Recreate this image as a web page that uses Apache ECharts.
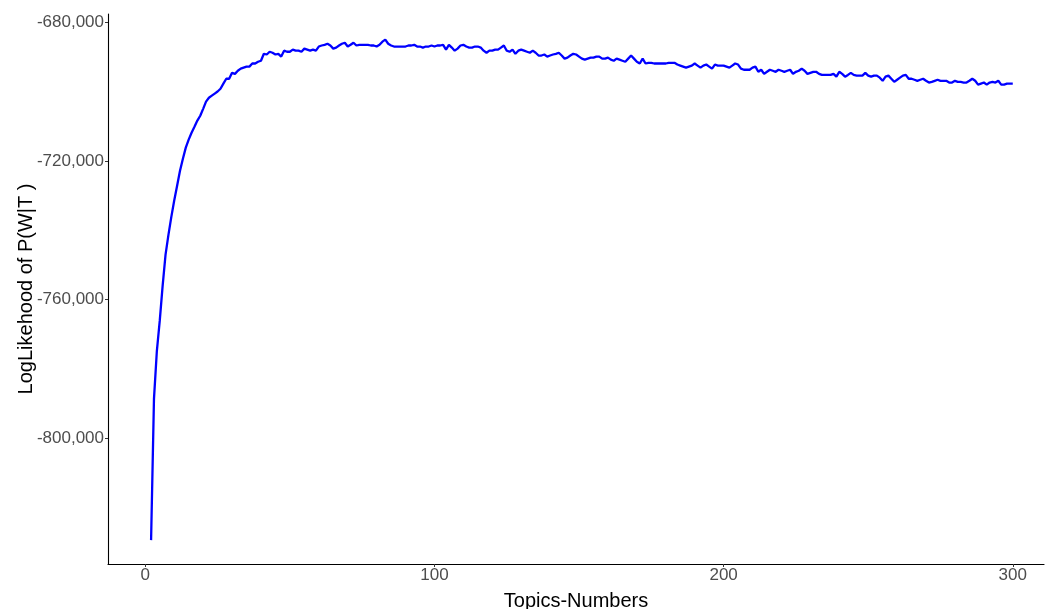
<!DOCTYPE html>
<html>
<head>
<meta charset="utf-8">
<script src="https://cdn.jsdelivr.net/npm/echarts@6/dist/echarts.min.js"></script>
<style>
  html, body { margin: 0; padding: 0; background: #ffffff; }
  #chart { width: 1046px; height: 609px; }
</style>
</head>
<body>
<div id="chart"></div>
<script>
// Topic counts run from 2 to 300 in steps of one
const firstTopic = 2;

// Log-likelihood of P(W|T) for each topic count
const logLikelihood = [
  -829500, -788700, -774800, -766100, -756000, -747000, -741300, -736100, -731400, -727100,
  -722800, -719300, -716100, -713800, -711800, -710100, -708300, -706900, -704900, -702800,
  -701700, -701100, -700500, -699900, -699100, -697600, -696200, -696200, -694500, -694800,
  -693900, -693300, -693000, -692700, -692700, -691800, -691800, -691300, -691000, -689000,
  -689200, -688400, -688700, -689200, -689000, -689800, -688100, -688400, -688400, -687800,
  -688100, -688100, -688400, -687500, -687800, -688100, -687800, -688100, -686900, -686600,
  -686400, -686100, -686600, -687500, -687200, -686600, -686100, -685800, -686900, -686400,
  -685800, -686600, -686400, -686400, -686400, -686400, -686600, -686600, -686900, -686400,
  -685500, -684900, -686100, -686600, -686900, -686900, -686900, -686900, -686900, -686600,
  -686600, -686400, -686900, -686900, -687200, -686900, -686900, -686600, -686900, -686600,
  -686600, -686400, -687800, -686400, -687200, -688100, -687500, -686600, -686400, -686900,
  -687200, -687200, -686900, -686900, -687200, -688100, -688700, -688100, -688100, -687800,
  -687800, -687200, -686600, -688100, -688400, -687800, -689000, -688100, -687800, -688100,
  -688400, -688700, -688100, -688700, -689500, -689500, -689200, -689800, -689500, -689200,
  -689000, -688700, -689500, -690400, -690100, -689500, -689000, -689200, -689800, -690400,
  -690700, -690400, -690100, -690100, -689800, -689800, -690400, -690400, -690100, -690700,
  -691000, -690400, -690700, -691000, -691300, -690400, -689500, -690400, -691300, -691800,
  -690400, -691800, -691600, -691600, -691800, -691800, -691800, -691800, -691800, -691600,
  -691600, -691600, -692100, -692400, -692700, -693000, -692700, -692400, -691800, -692400,
  -693000, -692400, -692100, -692700, -693300, -692100, -692400, -692400, -692400, -692700,
  -693000, -692400, -691800, -692100, -693300, -693600, -693600, -693600, -693000, -692700,
  -694200, -693600, -694800, -694200, -693600, -693900, -694200, -693600, -693900, -694200,
  -693900, -693600, -694800, -694200, -693900, -693300, -693900, -694800, -694500, -694200,
  -694200, -694800, -695100, -695100, -695100, -695100, -694800, -695600, -694200, -694800,
  -695600, -695100, -694500, -695100, -695300, -695300, -695300, -694500, -695300, -695600,
  -695300, -695300, -695900, -696800, -695600, -695300, -696200, -697100, -696500, -695900,
  -695300, -695100, -696200, -696200, -696500, -696800, -696500, -696200, -696800, -697300,
  -697100, -696800, -696500, -696800, -696800, -696800, -697300, -697300, -696800, -697100,
  -697100, -697300, -697300, -696800, -696200, -696800, -697900, -697600, -697300, -697900,
  -697300, -697100, -697300, -696800, -697900, -697900, -697600, -697600, -697600
];

// Tick positions shown on each axis
const xTicks = [0, 100, 200, 300];
const yTicks = [-800000, -760000, -720000, -680000];

const points = logLikelihood.map((v, i) => [firstTopic + i, v]);

const fmt = v => (v < 0 ? '-' : '') + Math.abs(v).toString().replace(/\B(?=(\d{3})+(?!\d))/g, ',');

const FONT = 'Liberation Sans, Arial, sans-serif';

const chart = echarts.init(document.getElementById('chart'), null, { renderer: 'canvas' });

chart.setOption({
  animation: false,
  backgroundColor: '#ffffff',
  grid: {
    left: 108, right: 2, top: 14, bottom: 45,
    containLabel: false,
    outerBoundsMode: 'none'
  },
  xAxis: {
    type: 'value',
    min: -12.9,
    max: 310.8,
    name: 'Topics-Numbers',
    nameLocation: 'middle',
    nameGap: 27,
    nameMoveOverlap: false,
    nameTextStyle: { color: '#000000', fontSize: 20, fontFamily: FONT },
    axisLine: { show: true, onZero: false, lineStyle: { color: '#000000', width: 1.1 } },
    axisTick: { show: true, length: 3, customValues: xTicks, lineStyle: { color: '#333333' } },
    axisLabel: {
      customValues: xTicks,
      color: '#4d4d4d', fontSize: 17, margin: 3,
      fontFamily: FONT
    },
    splitLine: { show: false }
  },
  yAxis: {
    type: 'value',
    min: -836400,
    max: -677500,
    name: 'LogLikehood of P(W|T )',
    nameLocation: 'middle',
    nameRotate: 90,
    nameGap: 72,
    nameMoveOverlap: false,
    nameTextStyle: { color: '#000000', fontSize: 20, fontFamily: FONT },
    axisLine: { show: true, onZero: false, lineStyle: { color: '#000000', width: 1.1 } },
    axisTick: { show: true, length: 3, customValues: yTicks, lineStyle: { color: '#333333' } },
    axisLabel: {
      customValues: yTicks,
      formatter: fmt,
      color: '#4d4d4d', fontSize: 17, margin: 4,
      fontFamily: FONT
    },
    splitLine: { show: false }
  },
  series: [{
    type: 'line',
    data: points,
    showSymbol: false,
    symbol: 'none',
    lineStyle: { color: '#0000ff', width: 2.3 },
    itemStyle: { color: '#0000ff' }
  }]
});
</script>
</body>
</html>
